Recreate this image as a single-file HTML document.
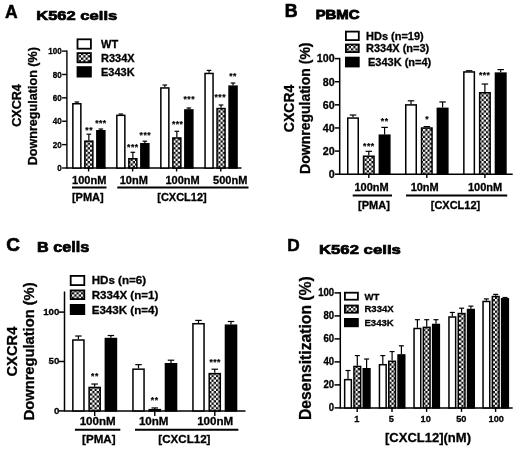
<!DOCTYPE html>
<html><head><meta charset="utf-8"><title>Figure</title>
<style>
html,body{margin:0;padding:0;background:#fff;}
body{width:520px;height:450px;overflow:hidden;font-family:"Liberation Sans",sans-serif;}
svg{display:block;will-change:transform;}
svg text{font-family:"Liberation Sans",sans-serif;font-weight:bold;fill:#000;stroke:#000;stroke-width:0.3px;}
</style></head><body>
<svg width="520" height="450" viewBox="0 0 520 450">
<defs>
<pattern id="hatch" width="4.5" height="4.6" patternUnits="userSpaceOnUse">
<rect width="4.5" height="4.6" fill="#0a0a0a"/>
<rect x="0" y="0" width="2.25" height="2.3" fill="#fff"/>
<rect x="2.25" y="2.3" width="2.25" height="2.3" fill="#fff"/>
</pattern>
</defs>
<rect width="520" height="450" fill="#fff"/>
<text x="5.0" y="17.6" font-size="17.5" text-anchor="start" style="stroke-width:0.5px">A</text>
<text x="36.2" y="20" font-size="13.4" text-anchor="start" textLength="81" lengthAdjust="spacingAndGlyphs" style="stroke-width:0.7px">K562 cells</text>
<text transform="translate(20.9,105.5) rotate(-90)" font-size="12.6" text-anchor="middle" >CXCR4</text>
<text transform="translate(36.6,106.2) rotate(-90)" font-size="12.6" text-anchor="middle" >Downregulation (%)</text>
<line x1="66.9" y1="50.39999999999999" x2="66.9" y2="168.7" stroke="#000" stroke-width="1.4"/>
<line x1="62.10000000000001" y1="168.0" x2="66.9" y2="168.0" stroke="#000" stroke-width="1.4"/>
<text transform="translate(61.8,171.22) scale(0.9,1)" font-size="9" text-anchor="end" >0</text>
<line x1="62.10000000000001" y1="144.62" x2="66.9" y2="144.62" stroke="#000" stroke-width="1.4"/>
<text transform="translate(61.8,147.84) scale(0.9,1)" font-size="9" text-anchor="end" >20</text>
<line x1="62.10000000000001" y1="121.24" x2="66.9" y2="121.24" stroke="#000" stroke-width="1.4"/>
<text transform="translate(61.8,124.46) scale(0.9,1)" font-size="9" text-anchor="end" >40</text>
<line x1="62.10000000000001" y1="97.86" x2="66.9" y2="97.86" stroke="#000" stroke-width="1.4"/>
<text transform="translate(61.8,101.08) scale(0.9,1)" font-size="9" text-anchor="end" >60</text>
<line x1="62.10000000000001" y1="74.47999999999999" x2="66.9" y2="74.47999999999999" stroke="#000" stroke-width="1.4"/>
<text transform="translate(61.8,77.7) scale(0.9,1)" font-size="9" text-anchor="end" >80</text>
<line x1="62.10000000000001" y1="51.099999999999994" x2="66.9" y2="51.099999999999994" stroke="#000" stroke-width="1.4"/>
<text transform="translate(61.8,54.32) scale(0.9,1)" font-size="9" text-anchor="end" >100</text>
<line x1="66.9" y1="168" x2="241.5" y2="168" stroke="#000" stroke-width="1.5"/>
<rect x="77.5" y="39.3" width="13.399999999999999" height="9.400000000000002" fill="#fff" stroke="#000" stroke-width="1.8"/>
<text x="101" y="48.2" font-size="11" text-anchor="start" >WT</text>
<rect x="77.5" y="53.1" width="13.399999999999999" height="9.2" fill="url(#hatch)" stroke="#000" stroke-width="1.8"/>
<text x="101" y="62" font-size="11" text-anchor="start" >R334X</text>
<rect x="77.5" y="67.10000000000001" width="13.399999999999999" height="9.499999999999996" fill="#000" stroke="#000" stroke-width="1.8"/>
<text x="101" y="75.8" font-size="11" text-anchor="start" >E343K</text>
<line x1="76.85" y1="103" x2="76.85" y2="102" stroke="#000" stroke-width="1.2"/>
<line x1="74.55" y1="102" x2="79.14999999999999" y2="102" stroke="#000" stroke-width="1.2"/>
<rect x="72.85" y="103.75" width="8.00" height="64.25" fill="#fff" stroke="#000" stroke-width="1.5"/>
<line x1="88.85" y1="140.4" x2="88.85" y2="134.2" stroke="#000" stroke-width="1.2"/>
<line x1="86.55" y1="134.2" x2="91.14999999999999" y2="134.2" stroke="#000" stroke-width="1.2"/>
<rect x="84.85" y="141.15" width="8.00" height="26.85" fill="url(#hatch)" stroke="#000" stroke-width="1.5"/>
<line x1="100.85" y1="130" x2="100.85" y2="129" stroke="#000" stroke-width="1.2"/>
<line x1="98.55" y1="129" x2="103.14999999999999" y2="129" stroke="#000" stroke-width="1.2"/>
<rect x="96.85" y="130.75" width="8.00" height="37.25" fill="#000" stroke="#000" stroke-width="1.5"/>
<line x1="88.6" y1="168" x2="88.6" y2="171.5" stroke="#000" stroke-width="1.4"/>
<line x1="120.85" y1="114.6" x2="120.85" y2="114" stroke="#000" stroke-width="1.2"/>
<line x1="118.55" y1="114" x2="123.14999999999999" y2="114" stroke="#000" stroke-width="1.2"/>
<rect x="116.85" y="115.35" width="8.00" height="52.65" fill="#fff" stroke="#000" stroke-width="1.5"/>
<line x1="132.85" y1="158" x2="132.85" y2="152.3" stroke="#000" stroke-width="1.2"/>
<line x1="130.54999999999998" y1="152.3" x2="135.15" y2="152.3" stroke="#000" stroke-width="1.2"/>
<rect x="128.85" y="158.75" width="8.00" height="9.25" fill="url(#hatch)" stroke="#000" stroke-width="1.5"/>
<line x1="144.85" y1="143" x2="144.85" y2="141.2" stroke="#000" stroke-width="1.2"/>
<line x1="142.54999999999998" y1="141.2" x2="147.15" y2="141.2" stroke="#000" stroke-width="1.2"/>
<rect x="140.85" y="143.75" width="8.00" height="24.25" fill="#000" stroke="#000" stroke-width="1.5"/>
<line x1="132.6" y1="168" x2="132.6" y2="171.5" stroke="#000" stroke-width="1.4"/>
<line x1="164.85" y1="87.2" x2="164.85" y2="85" stroke="#000" stroke-width="1.2"/>
<line x1="162.54999999999998" y1="85" x2="167.15" y2="85" stroke="#000" stroke-width="1.2"/>
<rect x="160.85" y="87.95" width="8.00" height="80.05" fill="#fff" stroke="#000" stroke-width="1.5"/>
<line x1="176.85" y1="137.2" x2="176.85" y2="131.3" stroke="#000" stroke-width="1.2"/>
<line x1="174.54999999999998" y1="131.3" x2="179.15" y2="131.3" stroke="#000" stroke-width="1.2"/>
<rect x="172.85" y="137.95" width="8.00" height="30.05" fill="url(#hatch)" stroke="#000" stroke-width="1.5"/>
<line x1="188.85" y1="109.2" x2="188.85" y2="108" stroke="#000" stroke-width="1.2"/>
<line x1="186.54999999999998" y1="108" x2="191.15" y2="108" stroke="#000" stroke-width="1.2"/>
<rect x="184.85" y="109.95" width="8.00" height="58.05" fill="#000" stroke="#000" stroke-width="1.5"/>
<line x1="176.6" y1="168" x2="176.6" y2="171.5" stroke="#000" stroke-width="1.4"/>
<line x1="209.05" y1="72.7" x2="209.05" y2="70.4" stroke="#000" stroke-width="1.2"/>
<line x1="206.75" y1="70.4" x2="211.35000000000002" y2="70.4" stroke="#000" stroke-width="1.2"/>
<rect x="205.05" y="73.45" width="8.00" height="94.55" fill="#fff" stroke="#000" stroke-width="1.5"/>
<line x1="221.05" y1="107.8" x2="221.05" y2="105" stroke="#000" stroke-width="1.2"/>
<line x1="218.75" y1="105" x2="223.35000000000002" y2="105" stroke="#000" stroke-width="1.2"/>
<rect x="217.05" y="108.55" width="8.00" height="59.45" fill="url(#hatch)" stroke="#000" stroke-width="1.5"/>
<line x1="233.05" y1="85.4" x2="233.05" y2="83" stroke="#000" stroke-width="1.2"/>
<line x1="230.75" y1="83" x2="235.35000000000002" y2="83" stroke="#000" stroke-width="1.2"/>
<rect x="229.05" y="86.15" width="8.00" height="81.85" fill="#000" stroke="#000" stroke-width="1.5"/>
<line x1="220.8" y1="168" x2="220.8" y2="171.5" stroke="#000" stroke-width="1.4"/>
<text x="89.15" y="133.0" font-size="8.6" text-anchor="middle" letter-spacing="0.5" style="stroke-width:0.2px">**</text>
<text x="100.95" y="126.3" font-size="8.6" text-anchor="middle" letter-spacing="0.5" style="stroke-width:0.2px">***</text>
<text x="132.85" y="149.5" font-size="8.6" text-anchor="middle" letter-spacing="0.5" style="stroke-width:0.2px">***</text>
<text x="145.35" y="138.3" font-size="8.6" text-anchor="middle" letter-spacing="0.5" style="stroke-width:0.2px">***</text>
<text x="177.65" y="127.0" font-size="8.6" text-anchor="middle" letter-spacing="0.5" style="stroke-width:0.2px">***</text>
<text x="189.25" y="101.8" font-size="8.6" text-anchor="middle" letter-spacing="0.5" style="stroke-width:0.2px">***</text>
<text x="220.25" y="99.8" font-size="8.6" text-anchor="middle" letter-spacing="0.5" style="stroke-width:0.2px">***</text>
<text x="233.05" y="79.0" font-size="8.6" text-anchor="middle" letter-spacing="0.5" style="stroke-width:0.2px">**</text>
<text x="89.2" y="183.6" font-size="11" text-anchor="middle" >100nM</text>
<text x="133.8" y="183.6" font-size="11" text-anchor="middle" >10nM</text>
<text x="182.6" y="183.6" font-size="11" text-anchor="middle" >100nM</text>
<text x="230.2" y="183.6" font-size="11" text-anchor="middle" >500nM</text>
<line x1="72" y1="187.5" x2="106.5" y2="187.5" stroke="#000" stroke-width="1.8"/>
<line x1="117.3" y1="187.5" x2="248.5" y2="187.5" stroke="#000" stroke-width="1.8"/>
<text x="87.8" y="200.6" font-size="11" text-anchor="middle" >[PMA]</text>
<text x="182" y="200.6" font-size="11" text-anchor="middle" >[CXCL12]</text>
<text x="284.8" y="17" font-size="17.8" text-anchor="start" style="stroke-width:0.7px">B</text>
<text x="315.7" y="19.3" font-size="13.2" text-anchor="start" textLength="43.8" lengthAdjust="spacingAndGlyphs" style="stroke-width:0.9px">PBMC</text>
<text transform="translate(293.8,108.4) rotate(-90)" font-size="14" text-anchor="middle" >CXCR4</text>
<text transform="translate(309.6,108.2) rotate(-90)" font-size="14" text-anchor="middle" >Downregulation (%)</text>
<line x1="339.7" y1="57.849999999999994" x2="339.7" y2="174.95" stroke="#000" stroke-width="1.5"/>
<line x1="334.9" y1="174.2" x2="339.7" y2="174.2" stroke="#000" stroke-width="1.5"/>
<text transform="translate(334.6,178.03) scale(1.0,1)" font-size="10.7" text-anchor="end" >0</text>
<line x1="334.9" y1="151.07999999999998" x2="339.7" y2="151.07999999999998" stroke="#000" stroke-width="1.5"/>
<text transform="translate(334.6,154.91) scale(1.0,1)" font-size="10.7" text-anchor="end" >20</text>
<line x1="334.9" y1="127.96" x2="339.7" y2="127.96" stroke="#000" stroke-width="1.5"/>
<text transform="translate(334.6,131.79) scale(1.0,1)" font-size="10.7" text-anchor="end" >40</text>
<line x1="334.9" y1="104.83999999999999" x2="339.7" y2="104.83999999999999" stroke="#000" stroke-width="1.5"/>
<text transform="translate(334.6,108.67) scale(1.0,1)" font-size="10.7" text-anchor="end" >60</text>
<line x1="334.9" y1="81.72" x2="339.7" y2="81.72" stroke="#000" stroke-width="1.5"/>
<text transform="translate(334.6,85.55) scale(1.0,1)" font-size="10.7" text-anchor="end" >80</text>
<line x1="334.9" y1="58.599999999999994" x2="339.7" y2="58.599999999999994" stroke="#000" stroke-width="1.5"/>
<text transform="translate(334.6,62.43) scale(1.0,1)" font-size="10.7" text-anchor="end" >100</text>
<line x1="339.7" y1="174.2" x2="512.7" y2="174.2" stroke="#000" stroke-width="1.5"/>
<rect x="345.9" y="31.599999999999998" width="12.899999999999999" height="8.5" fill="#fff" stroke="#000" stroke-width="1.8"/>
<text x="366" y="39.5" font-size="11" text-anchor="start" >HDs (n=19)</text>
<rect x="345.9" y="44.5" width="12.899999999999999" height="7.599999999999999" fill="url(#hatch)" stroke="#000" stroke-width="1.8"/>
<text x="366" y="52.3" font-size="11" text-anchor="start" >R334X (n=3)</text>
<rect x="345.9" y="57.6" width="12.899999999999999" height="8.900000000000002" fill="#000" stroke="#000" stroke-width="1.8"/>
<text x="368" y="66.1" font-size="11" text-anchor="start" >E343K (n=4)</text>
<line x1="353.0" y1="117.32479999999998" x2="353.0" y2="115.0128" stroke="#000" stroke-width="1.2"/>
<line x1="349.75" y1="115.0128" x2="356.25" y2="115.0128" stroke="#000" stroke-width="1.2"/>
<rect x="347.75" y="118.07" width="10.50" height="56.13" fill="#fff" stroke="#000" stroke-width="1.5"/>
<line x1="368.8" y1="155.4728" x2="368.8" y2="151.31119999999999" stroke="#000" stroke-width="1.2"/>
<line x1="365.55" y1="151.31119999999999" x2="372.05" y2="151.31119999999999" stroke="#000" stroke-width="1.2"/>
<rect x="363.55" y="156.22" width="10.50" height="17.98" fill="url(#hatch)" stroke="#000" stroke-width="1.5"/>
<line x1="384.6" y1="134.43359999999998" x2="384.6" y2="127.38199999999999" stroke="#000" stroke-width="1.2"/>
<line x1="381.35" y1="127.38199999999999" x2="387.85" y2="127.38199999999999" stroke="#000" stroke-width="1.2"/>
<rect x="379.35" y="135.18" width="10.50" height="39.02" fill="#000" stroke="#000" stroke-width="1.5"/>
<line x1="368.8" y1="174.2" x2="368.8" y2="178.0" stroke="#000" stroke-width="1.4"/>
<line x1="411.0" y1="104.14639999999999" x2="411.0" y2="100.794" stroke="#000" stroke-width="1.2"/>
<line x1="407.75" y1="100.794" x2="414.25" y2="100.794" stroke="#000" stroke-width="1.2"/>
<rect x="405.75" y="104.90" width="10.50" height="69.30" fill="#fff" stroke="#000" stroke-width="1.5"/>
<line x1="426.8" y1="127.26639999999999" x2="426.8" y2="126.57279999999999" stroke="#000" stroke-width="1.2"/>
<line x1="423.55" y1="126.57279999999999" x2="430.05" y2="126.57279999999999" stroke="#000" stroke-width="1.2"/>
<rect x="421.55" y="128.02" width="10.50" height="46.18" fill="url(#hatch)" stroke="#000" stroke-width="1.5"/>
<line x1="442.6" y1="107.61439999999999" x2="442.6" y2="101.94999999999999" stroke="#000" stroke-width="1.2"/>
<line x1="439.35" y1="101.94999999999999" x2="445.85" y2="101.94999999999999" stroke="#000" stroke-width="1.2"/>
<rect x="437.35" y="108.36" width="10.50" height="65.84" fill="#000" stroke="#000" stroke-width="1.5"/>
<line x1="426.8" y1="174.2" x2="426.8" y2="178.0" stroke="#000" stroke-width="1.4"/>
<line x1="469.1" y1="71.2004" x2="469.1" y2="70.738" stroke="#000" stroke-width="1.2"/>
<line x1="465.85" y1="70.738" x2="472.35" y2="70.738" stroke="#000" stroke-width="1.2"/>
<rect x="463.85" y="71.95" width="10.50" height="102.25" fill="#fff" stroke="#000" stroke-width="1.5"/>
<line x1="484.90000000000003" y1="92.0084" x2="484.90000000000003" y2="84.032" stroke="#000" stroke-width="1.2"/>
<line x1="481.65000000000003" y1="84.032" x2="488.15000000000003" y2="84.032" stroke="#000" stroke-width="1.2"/>
<rect x="479.65" y="92.76" width="10.50" height="81.44" fill="url(#hatch)" stroke="#000" stroke-width="1.5"/>
<line x1="500.70000000000005" y1="72.35640000000001" x2="500.70000000000005" y2="69.582" stroke="#000" stroke-width="1.2"/>
<line x1="497.45000000000005" y1="69.582" x2="503.95000000000005" y2="69.582" stroke="#000" stroke-width="1.2"/>
<rect x="495.45" y="73.11" width="10.50" height="101.09" fill="#000" stroke="#000" stroke-width="1.5"/>
<line x1="484.90000000000003" y1="174.2" x2="484.90000000000003" y2="178.0" stroke="#000" stroke-width="1.4"/>
<text x="368.85" y="149.3" font-size="8.6" text-anchor="middle" letter-spacing="0.5" style="stroke-width:0.2px">***</text>
<text x="384.65" y="123.5" font-size="8.6" text-anchor="middle" letter-spacing="0.5" style="stroke-width:0.2px">**</text>
<text x="427.25" y="121.9" font-size="8.6" text-anchor="middle" letter-spacing="0.5" style="stroke-width:0.2px">*</text>
<text x="484.65" y="77.5" font-size="8.6" text-anchor="middle" letter-spacing="0.5" style="stroke-width:0.2px">***</text>
<text x="371.6" y="190.9" font-size="11" text-anchor="middle" >100nM</text>
<text x="424.7" y="190.9" font-size="11" text-anchor="middle" >10nM</text>
<text x="485.1" y="190.9" font-size="11" text-anchor="middle" >100nM</text>
<line x1="352.7" y1="195.5" x2="392" y2="195.5" stroke="#000" stroke-width="1.9"/>
<line x1="406" y1="195.5" x2="507.2" y2="195.5" stroke="#000" stroke-width="1.9"/>
<text x="374" y="209" font-size="11" text-anchor="middle" >[PMA]</text>
<text x="455.5" y="208.8" font-size="11" text-anchor="middle" >[CXCL12]</text>
<text x="6.3" y="251" font-size="19" text-anchor="start" style="stroke-width:0.7px">C</text>
<text x="37" y="251.5" font-size="14" text-anchor="start" textLength="52.2" lengthAdjust="spacingAndGlyphs" style="stroke-width:0.7px">B cells</text>
<text transform="translate(16.8,351.6) rotate(-90)" font-size="14.7" text-anchor="middle" >CXCR4</text>
<text transform="translate(33.7,351.4) rotate(-90)" font-size="14.7" text-anchor="middle" >Downregulation (%)</text>
<line x1="64.5" y1="291.5" x2="64.5" y2="411.65" stroke="#000" stroke-width="1.5"/>
<line x1="58.9" y1="410.9" x2="64.5" y2="410.9" stroke="#000" stroke-width="1.5"/>
<text transform="translate(59.4,413.61) scale(0.99,1)" font-size="9.8" text-anchor="end" >0</text>
<line x1="58.9" y1="361.5" x2="64.5" y2="361.5" stroke="#000" stroke-width="1.5"/>
<text transform="translate(59.4,364.21) scale(0.99,1)" font-size="9.8" text-anchor="end" >50</text>
<line x1="58.9" y1="312.09999999999997" x2="64.5" y2="312.09999999999997" stroke="#000" stroke-width="1.5"/>
<text transform="translate(59.4,314.81) scale(0.99,1)" font-size="9.8" text-anchor="end" >100</text>
<line x1="64.5" y1="410.9" x2="245.5" y2="410.9" stroke="#000" stroke-width="1.5"/>
<rect x="70.7" y="275.9" width="13.6" height="9.2" fill="#fff" stroke="#000" stroke-width="1.8"/>
<text x="91.7" y="284.4" font-size="11.6" text-anchor="start" >HDs (n=6)</text>
<rect x="70.7" y="290.4" width="13.6" height="8.7" fill="url(#hatch)" stroke="#000" stroke-width="1.8"/>
<text x="91.7" y="298.9" font-size="11.6" text-anchor="start" >R334X (n=1)</text>
<rect x="70.7" y="304.9" width="13.6" height="9.2" fill="#000" stroke="#000" stroke-width="1.8"/>
<text x="91.7" y="313.6" font-size="11.6" text-anchor="start" >E343K (n=4)</text>
<line x1="78.39999999999999" y1="339.27" x2="78.39999999999999" y2="336.0096" stroke="#000" stroke-width="1.2"/>
<line x1="75.14999999999999" y1="336.0096" x2="81.64999999999999" y2="336.0096" stroke="#000" stroke-width="1.2"/>
<rect x="72.85" y="340.02" width="11.10" height="70.88" fill="#fff" stroke="#000" stroke-width="1.5"/>
<line x1="94.64999999999999" y1="386.69399999999996" x2="94.64999999999999" y2="384.02639999999997" stroke="#000" stroke-width="1.2"/>
<line x1="91.39999999999999" y1="384.02639999999997" x2="97.89999999999999" y2="384.02639999999997" stroke="#000" stroke-width="1.2"/>
<rect x="89.10" y="387.44" width="11.10" height="23.46" fill="url(#hatch)" stroke="#000" stroke-width="1.5"/>
<line x1="110.89999999999999" y1="337.788" x2="110.89999999999999" y2="335.51559999999995" stroke="#000" stroke-width="1.2"/>
<line x1="107.64999999999999" y1="335.51559999999995" x2="114.14999999999999" y2="335.51559999999995" stroke="#000" stroke-width="1.2"/>
<rect x="105.35" y="338.54" width="11.10" height="72.36" fill="#000" stroke="#000" stroke-width="1.5"/>
<line x1="94.69999999999999" y1="410.9" x2="94.69999999999999" y2="416.0" stroke="#000" stroke-width="1.4"/>
<line x1="138.5" y1="368.416" x2="138.5" y2="364.66159999999996" stroke="#000" stroke-width="1.2"/>
<line x1="135.25" y1="364.66159999999996" x2="141.75" y2="364.66159999999996" stroke="#000" stroke-width="1.2"/>
<rect x="132.95" y="369.17" width="11.10" height="41.73" fill="#fff" stroke="#000" stroke-width="1.5"/>
<line x1="154.75" y1="408.924" x2="154.75" y2="407.936" stroke="#000" stroke-width="1.2"/>
<line x1="151.5" y1="407.936" x2="158.0" y2="407.936" stroke="#000" stroke-width="1.2"/>
<rect x="149.20" y="409.67" width="11.10" height="1.23" fill="url(#hatch)" stroke="#000" stroke-width="1.5"/>
<line x1="171.0" y1="362.98199999999997" x2="171.0" y2="360.2156" stroke="#000" stroke-width="1.2"/>
<line x1="167.75" y1="360.2156" x2="174.25" y2="360.2156" stroke="#000" stroke-width="1.2"/>
<rect x="165.45" y="363.73" width="11.10" height="47.17" fill="#000" stroke="#000" stroke-width="1.5"/>
<line x1="154.79999999999998" y1="410.9" x2="154.79999999999998" y2="416.0" stroke="#000" stroke-width="1.4"/>
<line x1="198.5" y1="322.96799999999996" x2="198.5" y2="320.39919999999995" stroke="#000" stroke-width="1.2"/>
<line x1="195.25" y1="320.39919999999995" x2="201.75" y2="320.39919999999995" stroke="#000" stroke-width="1.2"/>
<rect x="192.95" y="323.72" width="11.10" height="87.18" fill="#fff" stroke="#000" stroke-width="1.5"/>
<line x1="214.75" y1="372.86199999999997" x2="214.75" y2="369.2064" stroke="#000" stroke-width="1.2"/>
<line x1="211.5" y1="369.2064" x2="218.0" y2="369.2064" stroke="#000" stroke-width="1.2"/>
<rect x="209.20" y="373.61" width="11.10" height="37.29" fill="url(#hatch)" stroke="#000" stroke-width="1.5"/>
<line x1="231.0" y1="324.45" x2="231.0" y2="321.486" stroke="#000" stroke-width="1.2"/>
<line x1="227.75" y1="321.486" x2="234.25" y2="321.486" stroke="#000" stroke-width="1.2"/>
<rect x="225.45" y="325.20" width="11.10" height="85.70" fill="#000" stroke="#000" stroke-width="1.5"/>
<line x1="214.79999999999998" y1="410.9" x2="214.79999999999998" y2="416.0" stroke="#000" stroke-width="1.4"/>
<text x="94.95" y="379.3" font-size="8.6" text-anchor="middle" letter-spacing="0.5" style="stroke-width:0.2px">**</text>
<text x="154.65" y="403.3" font-size="8.6" text-anchor="middle" letter-spacing="0.5" style="stroke-width:0.2px">**</text>
<text x="215.15" y="364.9" font-size="8.6" text-anchor="middle" letter-spacing="0.5" style="stroke-width:0.2px">***</text>
<text x="97.7" y="425.1" font-size="11.6" text-anchor="middle" >100nM</text>
<text x="153.7" y="425.1" font-size="11.6" text-anchor="middle" >10nM</text>
<text x="215.2" y="425.1" font-size="11.6" text-anchor="middle" >100nM</text>
<line x1="74.9" y1="429.7" x2="120.3" y2="429.7" stroke="#000" stroke-width="1.9"/>
<line x1="135" y1="429.7" x2="238.4" y2="429.7" stroke="#000" stroke-width="1.9"/>
<text x="98.8" y="442.9" font-size="11.6" text-anchor="middle" >[PMA]</text>
<text x="184.4" y="442.9" font-size="11.6" text-anchor="middle" >[CXCL12]</text>
<text x="287.2" y="251" font-size="17.3" text-anchor="start" style="stroke-width:0.5px">D</text>
<text x="318.9" y="253.5" font-size="13.5" text-anchor="start" textLength="82" lengthAdjust="spacingAndGlyphs" style="stroke-width:0.7px">K562 cells</text>
<text transform="translate(310.8,348.2) rotate(-90)" font-size="15.7" text-anchor="middle" >Desensitization (%)</text>
<line x1="340.3" y1="292.15" x2="340.3" y2="408.65" stroke="#000" stroke-width="1.5"/>
<line x1="334.5" y1="407.9" x2="340.3" y2="407.9" stroke="#000" stroke-width="1.5"/>
<text transform="translate(334.2,411.48) scale(0.96,1)" font-size="10" text-anchor="end" >0</text>
<line x1="334.5" y1="384.9" x2="340.3" y2="384.9" stroke="#000" stroke-width="1.5"/>
<text transform="translate(334.2,388.48) scale(0.96,1)" font-size="10" text-anchor="end" >20</text>
<line x1="334.5" y1="361.9" x2="340.3" y2="361.9" stroke="#000" stroke-width="1.5"/>
<text transform="translate(334.2,365.48) scale(0.96,1)" font-size="10" text-anchor="end" >40</text>
<line x1="334.5" y1="338.9" x2="340.3" y2="338.9" stroke="#000" stroke-width="1.5"/>
<text transform="translate(334.2,342.48) scale(0.96,1)" font-size="10" text-anchor="end" >60</text>
<line x1="334.5" y1="315.9" x2="340.3" y2="315.9" stroke="#000" stroke-width="1.5"/>
<text transform="translate(334.2,319.48) scale(0.96,1)" font-size="10" text-anchor="end" >80</text>
<line x1="334.5" y1="292.9" x2="340.3" y2="292.9" stroke="#000" stroke-width="1.5"/>
<text transform="translate(334.2,296.48) scale(0.96,1)" font-size="10" text-anchor="end" >100</text>
<line x1="340.3" y1="407.9" x2="512.7" y2="407.9" stroke="#000" stroke-width="1.5"/>
<rect x="344.9" y="292.7" width="13.0" height="7.0000000000000115" fill="#fff" stroke="#000" stroke-width="1.8"/>
<text x="364.4" y="299.7" font-size="9.6" text-anchor="start" >WT</text>
<rect x="344.9" y="305.5" width="13.0" height="7.2" fill="url(#hatch)" stroke="#000" stroke-width="1.8"/>
<text x="364.4" y="312.3" font-size="9.6" text-anchor="start" >R334X</text>
<rect x="344.9" y="318.9" width="13.0" height="7.399999999999989" fill="#000" stroke="#000" stroke-width="1.8"/>
<text x="364.4" y="325.8" font-size="9.6" text-anchor="start" >E343K</text>
<line x1="348.0" y1="378.91999999999996" x2="348.0" y2="370.525" stroke="#000" stroke-width="1.2"/>
<line x1="345.5" y1="370.525" x2="350.5" y2="370.525" stroke="#000" stroke-width="1.2"/>
<rect x="344.65" y="379.67" width="6.70" height="28.23" fill="#fff" stroke="#000" stroke-width="1.5"/>
<line x1="357.3" y1="365.695" x2="357.3" y2="355.575" stroke="#000" stroke-width="1.2"/>
<line x1="354.8" y1="355.575" x2="359.8" y2="355.575" stroke="#000" stroke-width="1.2"/>
<rect x="353.95" y="366.44" width="6.70" height="41.45" fill="url(#hatch)" stroke="#000" stroke-width="1.5"/>
<line x1="366.6" y1="367.995" x2="366.6" y2="359.025" stroke="#000" stroke-width="1.2"/>
<line x1="364.1" y1="359.025" x2="369.1" y2="359.025" stroke="#000" stroke-width="1.2"/>
<rect x="363.25" y="368.75" width="6.70" height="39.15" fill="#000" stroke="#000" stroke-width="1.5"/>
<line x1="357.2" y1="407.9" x2="357.2" y2="411.9" stroke="#000" stroke-width="1.4"/>
<line x1="382.8" y1="363.96999999999997" x2="382.8" y2="355.575" stroke="#000" stroke-width="1.2"/>
<line x1="380.3" y1="355.575" x2="385.3" y2="355.575" stroke="#000" stroke-width="1.2"/>
<rect x="379.45" y="364.72" width="6.70" height="43.18" fill="#fff" stroke="#000" stroke-width="1.5"/>
<line x1="392.1" y1="360.52" x2="392.1" y2="351.54999999999995" stroke="#000" stroke-width="1.2"/>
<line x1="389.6" y1="351.54999999999995" x2="394.6" y2="351.54999999999995" stroke="#000" stroke-width="1.2"/>
<rect x="388.75" y="361.27" width="6.70" height="46.63" fill="url(#hatch)" stroke="#000" stroke-width="1.5"/>
<line x1="401.40000000000003" y1="354.195" x2="401.40000000000003" y2="345.79999999999995" stroke="#000" stroke-width="1.2"/>
<line x1="398.90000000000003" y1="345.79999999999995" x2="403.90000000000003" y2="345.79999999999995" stroke="#000" stroke-width="1.2"/>
<rect x="398.05" y="354.94" width="6.70" height="52.95" fill="#000" stroke="#000" stroke-width="1.5"/>
<line x1="392.0" y1="407.9" x2="392.0" y2="411.9" stroke="#000" stroke-width="1.4"/>
<line x1="417.40000000000003" y1="327.745" x2="417.40000000000003" y2="319.695" stroke="#000" stroke-width="1.2"/>
<line x1="414.90000000000003" y1="319.695" x2="419.90000000000003" y2="319.695" stroke="#000" stroke-width="1.2"/>
<rect x="414.05" y="328.50" width="6.70" height="79.40" fill="#fff" stroke="#000" stroke-width="1.5"/>
<line x1="426.70000000000005" y1="326.59499999999997" x2="426.70000000000005" y2="319.695" stroke="#000" stroke-width="1.2"/>
<line x1="424.20000000000005" y1="319.695" x2="429.20000000000005" y2="319.695" stroke="#000" stroke-width="1.2"/>
<rect x="423.35" y="327.34" width="6.70" height="80.56" fill="url(#hatch)" stroke="#000" stroke-width="1.5"/>
<line x1="436.00000000000006" y1="323.71999999999997" x2="436.00000000000006" y2="319.695" stroke="#000" stroke-width="1.2"/>
<line x1="433.50000000000006" y1="319.695" x2="438.50000000000006" y2="319.695" stroke="#000" stroke-width="1.2"/>
<rect x="432.65" y="324.47" width="6.70" height="83.43" fill="#000" stroke="#000" stroke-width="1.5"/>
<line x1="426.6" y1="407.9" x2="426.6" y2="411.9" stroke="#000" stroke-width="1.4"/>
<line x1="452.3" y1="316.245" x2="452.3" y2="312.45" stroke="#000" stroke-width="1.2"/>
<line x1="449.8" y1="312.45" x2="454.8" y2="312.45" stroke="#000" stroke-width="1.2"/>
<rect x="448.95" y="317.00" width="6.70" height="90.90" fill="#fff" stroke="#000" stroke-width="1.5"/>
<line x1="461.6" y1="312.79499999999996" x2="461.6" y2="308.195" stroke="#000" stroke-width="1.2"/>
<line x1="459.1" y1="308.195" x2="464.1" y2="308.195" stroke="#000" stroke-width="1.2"/>
<rect x="458.25" y="313.54" width="6.70" height="94.36" fill="url(#hatch)" stroke="#000" stroke-width="1.5"/>
<line x1="470.90000000000003" y1="308.77" x2="470.90000000000003" y2="306.125" stroke="#000" stroke-width="1.2"/>
<line x1="468.40000000000003" y1="306.125" x2="473.40000000000003" y2="306.125" stroke="#000" stroke-width="1.2"/>
<rect x="467.55" y="309.52" width="6.70" height="98.38" fill="#000" stroke="#000" stroke-width="1.5"/>
<line x1="461.5" y1="407.9" x2="461.5" y2="411.9" stroke="#000" stroke-width="1.4"/>
<line x1="486.40000000000003" y1="300.71999999999997" x2="486.40000000000003" y2="298.88" stroke="#000" stroke-width="1.2"/>
<line x1="483.90000000000003" y1="298.88" x2="488.90000000000003" y2="298.88" stroke="#000" stroke-width="1.2"/>
<rect x="483.05" y="301.47" width="6.70" height="106.43" fill="#fff" stroke="#000" stroke-width="1.5"/>
<line x1="495.70000000000005" y1="295.775" x2="495.70000000000005" y2="294.395" stroke="#000" stroke-width="1.2"/>
<line x1="493.20000000000005" y1="294.395" x2="498.20000000000005" y2="294.395" stroke="#000" stroke-width="1.2"/>
<rect x="492.35" y="296.52" width="6.70" height="111.38" fill="url(#hatch)" stroke="#000" stroke-width="1.5"/>
<line x1="505.00000000000006" y1="298.075" x2="505.00000000000006" y2="297.5" stroke="#000" stroke-width="1.2"/>
<line x1="502.50000000000006" y1="297.5" x2="507.50000000000006" y2="297.5" stroke="#000" stroke-width="1.2"/>
<rect x="501.65" y="298.82" width="6.70" height="109.07" fill="#000" stroke="#000" stroke-width="1.5"/>
<line x1="495.6" y1="407.9" x2="495.6" y2="411.9" stroke="#000" stroke-width="1.4"/>
<text transform="translate(356.7,421.6) scale(0.94,1)" font-size="9.8" text-anchor="middle" >1</text>
<text transform="translate(391.2,421.6) scale(0.94,1)" font-size="9.8" text-anchor="middle" >5</text>
<text transform="translate(425.7,421.6) scale(0.94,1)" font-size="9.8" text-anchor="middle" >10</text>
<text transform="translate(461.3,421.6) scale(0.94,1)" font-size="9.8" text-anchor="middle" >50</text>
<text transform="translate(496.2,421.6) scale(0.94,1)" font-size="9.8" text-anchor="middle" >100</text>
<text x="428" y="442.2" font-size="13" text-anchor="middle" >[CXCL12](nM)</text>
</svg>
</body></html>
